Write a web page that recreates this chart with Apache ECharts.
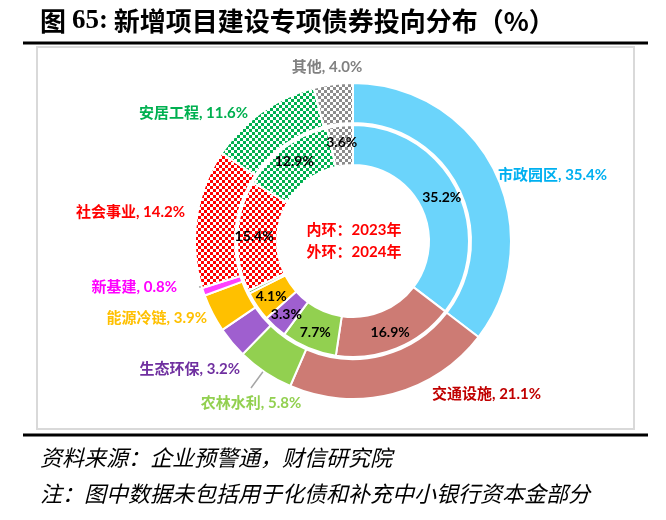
<!DOCTYPE html>
<html><head><meta charset="utf-8">
<script src="https://cdn.jsdelivr.net/npm/echarts@6/dist/echarts.min.js"></script>
<style>html,body{margin:0;padding:0;background:#fff}#c{width:666px;height:520px}</style>
</head><body><div id="c"></div>
<script>
const categories = ['市政园区','交通设施','农林水利','生态环保','能源冷链','新基建','社会事业','安居工程','其他'];
const values2024 = [35.4, 21.1, 5.8, 3.2, 3.9, 0.8, 14.2, 11.6, 4.0];
const values2023 = [35.2, 16.9, 7.7, 3.3, 4.1, 0.4, 15.4, 12.9, 3.6];
const titleText = '新增项目建设专项债券投向分布（%）';
const sourceText = '资料来源：企业预警通，财信研究院';
const noteText = '注：图中数据未包括用于化债和补充中小银行资本金部分';
const centerLines = ['内环：2023年', '外环：2024年'];

// styles
function pattern(color){
  const c = document.createElement('canvas'); c.width = 6; c.height = 6;
  const g = c.getContext('2d');
  g.fillStyle = '#fff'; g.fillRect(0,0,6,6);
  g.fillStyle = color; g.fillRect(0,0,3,3); g.fillRect(3,3,3,3);
  return {image: c, repeat: 'repeat'};
}
const fills = ['#6BD4FB','#CD7B74','#92D050','#9F5FCF','#FFC000','#FF40FF',pattern('#FF0000'),pattern('#00B050'),pattern('#8C8C8C')];
const innerFills = fills.slice(); innerFills[5] = '#70AD47';
const labelColors = ['#00B0F0','#C00000','#92D050','#7030A0','#FFC000','#FF00FF','#FF0000','#00B050','#808080'];
const labelPos = [[498,175,'left'],[432,394,'left'],[251,403,'center'],[240,369,'right'],[207,318,'right'],[177,287,'right'],[185,212,'right'],[248,113,'right'],[327,67,'center']];
const leaderLines = {2: [[251,388],[262,373],[273,357]], 5: [[199,287],[209,286],[220,285]]};
const FONT = 'Lato, "Noto Sans CJK SC", sans-serif';

const outerData = categories.map((n,i)=>({
  name:n, value:values2024[i],
  itemStyle:{color:fills[i]},
  label:{color:labelColors[i]},
  labelLine:{show: leaderLines[i]!==undefined}
}));
const innerData = categories.map((n,i)=>({
  name:n, value:values2023[i],
  itemStyle:{color:innerFills[i]},
  label:{show: i!==5}
}));

const chart = echarts.init(document.getElementById('c'));
chart.setOption({
  animation:false,
  graphic:[
    {type:'line', shape:{x1:23,y1:43,x2:648,y2:43}, style:{stroke:'#000',lineWidth:3}},
    {type:'line', shape:{x1:23,y1:435,x2:648,y2:435}, style:{stroke:'#000',lineWidth:3}},
    {type:'rect', shape:{x:37,y:47,width:597,height:382}, style:{fill:'none',stroke:'#D9D9D9',lineWidth:2}},
    {type:'text', x:40, y:21, style:{
      text:'{a|图 }{b|65:}{a| '+titleText+'}', verticalAlign:'middle',
      rich:{a:{fontFamily:'"Noto Sans CJK SC"',fontWeight:'bold',fontSize:26,fill:'#000'},
            b:{fontFamily:'"Liberation Serif"',fontWeight:'bold',fontSize:27,fill:'#000'}}}},
    {type:'text', x:40, y:458, style:{text:sourceText, verticalAlign:'middle', fontFamily:'"Noto Sans CJK SC"', fontStyle:'italic', fontSize:22, fill:'#000'}},
    {type:'text', x:40, y:494, style:{text:noteText, verticalAlign:'middle', fontFamily:'"Noto Sans CJK SC"', fontStyle:'italic', fontSize:22, fill:'#000'}},
    {type:'text', x:354, y:230, style:{text:centerLines[0], align:'center', verticalAlign:'middle', fontFamily:FONT, fontWeight:'bold', fontSize:15, fill:'#FF0000'}},
    {type:'text', x:354, y:252, style:{text:centerLines[1], align:'center', verticalAlign:'middle', fontFamily:FONT, fontWeight:'bold', fontSize:15, fill:'#FF0000'}}
  ],
  series:[
    {
      type:'pie', center:[353,241], radius:[118,158], startAngle:90, clockwise:true,
      avoidLabelOverlap:false, silent:true,
      itemStyle:{borderColor:'#fff', borderWidth:2},
      label:{show:true, position:'outside', fontFamily:FONT, fontWeight:'bold', fontSize:15,
        formatter:p=>p.name+', '+p.value.toFixed(1)+'%'},
      labelLine:{show:false, lineStyle:{color:'#A6A6A6', width:1.5}},
      labelLayout:function(params){
        const p = labelPos[params.dataIndex];
        const r = {x:p[0], y:p[1], align:p[2], verticalAlign:'middle'};
        if (leaderLines[params.dataIndex]) r.labelLinePoints = leaderLines[params.dataIndex];
        return r;
      },
      data:outerData
    },
    {
      type:'pie', center:[353,241], radius:[76,116], startAngle:90, clockwise:true,
      avoidLabelOverlap:false, silent:true,
      itemStyle:{borderColor:'#fff', borderWidth:2},
      label:{show:true, position:'inside', color:'#000', fontFamily:FONT, fontWeight:'bold', fontSize:14,
        formatter:p=>p.value.toFixed(1)+'%'},
      labelLine:{show:false},
      data:innerData
    }
  ]
});
</script></body></html>
